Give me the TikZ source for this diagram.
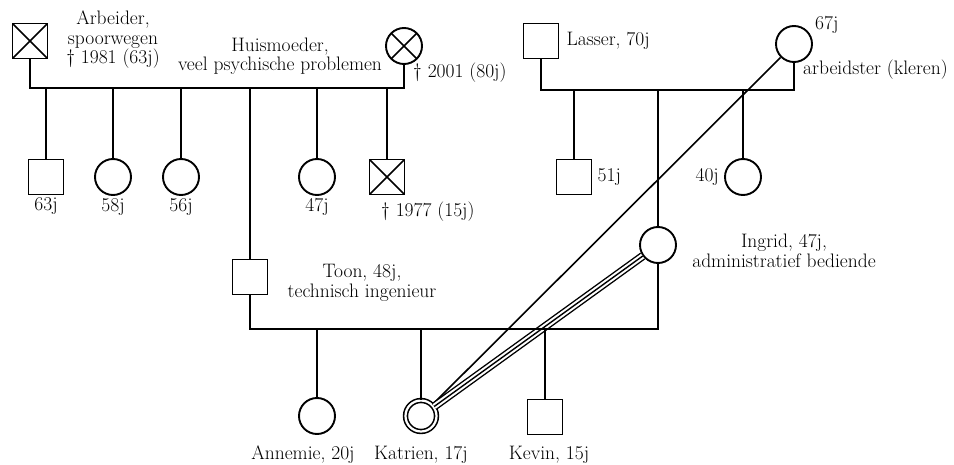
\documentclass[tikz,border=0pt]{standalone}
\usepackage{tikz}
\usetikzlibrary{positioning}

\begin{document}
\begin{tikzpicture}[
  x=1pt, y=-1pt,
  male/.style={draw, rectangle, line width=1.9pt, minimum size=35pt, inner sep=0pt},
  female/.style={draw, circle, line width=1.9pt, minimum size=36pt, inner sep=0pt},
  dead/.style={path picture={
    \draw[line width=1.6pt] (path picture bounding box.north west) -- (path picture bounding box.south east)
      (path picture bounding box.south west) -- (path picture bounding box.north east);}},
  indexp/.style={draw, circle, double, double distance=2.2pt, line width=1.6pt, minimum size=31pt, inner sep=0pt},
  rel/.style={line width=1.6pt},
  fused/.style={line width=1.4pt, double, double distance=5.5pt},
  lbl/.style={font=\fontsize{19.5}{19.5}\selectfont, inner sep=1pt, align=center}
]
  \useasboundingbox (0,0) rectangle (954,465);

  % couple lines
  \coordinate (p1) at (0,88);
  \coordinate (p2) at (0,90);
  \coordinate (p3) at (0,329);

  % grandparents left
  \node[male, dead] (gf) at (30,41) {};
  \node[female, dead] (gm) at (404,46) {};
  \node[lbl] (gflbl) at (113,40) {Arbeider,\\spoorwegen\\\textdagger\ 1981 (63j)};
  \node[lbl] (gmlbl) at (280,56) {Huismoeder,\\veel psychische problemen};
  \node[lbl, anchor=west] (gmdied) at (412,73) {\textdagger\ 2001 (80j)};

  % their children
  \node[male] (c1) at (46,177) {};
  \node[female] (c2) at (113,177) {};
  \node[female] (c3) at (181,177) {};
  \node[female] (c4) at (317,177) {};
  \node[male, dead] (c5) at (387,177) {};
  \node[lbl, below=1pt of c1] {63j};
  \node[lbl, below=1pt of c2] {58j};
  \node[lbl, below=1pt of c3] {56j};
  \node[lbl, below=1pt of c4] {47j};
  \node[lbl, anchor=west] (c5lbl) at (380,212) {\textdagger\ 1977 (15j)};

  \node[male] (toon) at (250,277) {};
  \node[lbl] (toonlbl) at (362,283) {Toon, 48j,\\technisch ingenieur};

  % grandparents right
  \node[male] (lasser) at (541,41) {};
  \node[female] (gm2) at (794,44) {};
  \node[lbl, right=6pt of lasser] {Lasser, 70j};
  \node[lbl, anchor=west] at (814,25) {67j};
  \node[lbl, anchor=west] at (802,70) {arbeidster (kleren)};

  \node[male] (s51) at (574,177) {};
  \node[female] (ingrid) at (658,245) {};
  \node[female] (c40) at (743,177) {};
  \node[lbl, right=4pt of s51] {51j};
  \node[lbl, left=4pt of c40] {40j};
  \node[lbl] (ingridlbl) at (784,251) {Ingrid, 47j,\\administratief bediende};

  % grandchildren
  \node[female] (annemie) at (317,416) {};
  \node[indexp] (katrien) at (421,416) {};
  \node[male] (kevin) at (545,417) {};
  \node[lbl] at (303,455) {Annemie, 20j};
  \node[lbl] at (421,455) {Katrien, 17j};
  \node[lbl] at (549,455) {Kevin, 15j};

  % relations to Katrien
  \draw[rel] (gm2) -- (katrien);
  \draw[fused] (ingrid) -- (katrien);
  \draw[line width=1.4pt] (ingrid) -- (katrien);

  % family lines
  \draw[rel] (gf.south) -- (gf.south |- p1) -| (gm.south);
  \foreach \c in {c1,c2,c3,c4,c5,toon}
    \draw[rel] (\c.north) -- (\c.north |- p1);

  \draw[rel] (lasser.south) -- (lasser.south |- p2) -| (gm2.south);
  \foreach \c in {s51,ingrid,c40}
    \draw[rel] (\c.north) -- (\c.north |- p2);

  \draw[rel] (toon.south) -- (toon.south |- p3) -| (ingrid.south);
  \foreach \c in {annemie,katrien,kevin}
    \draw[rel] (\c.north) -- (\c.north |- p3);
\end{tikzpicture}
\end{document}
